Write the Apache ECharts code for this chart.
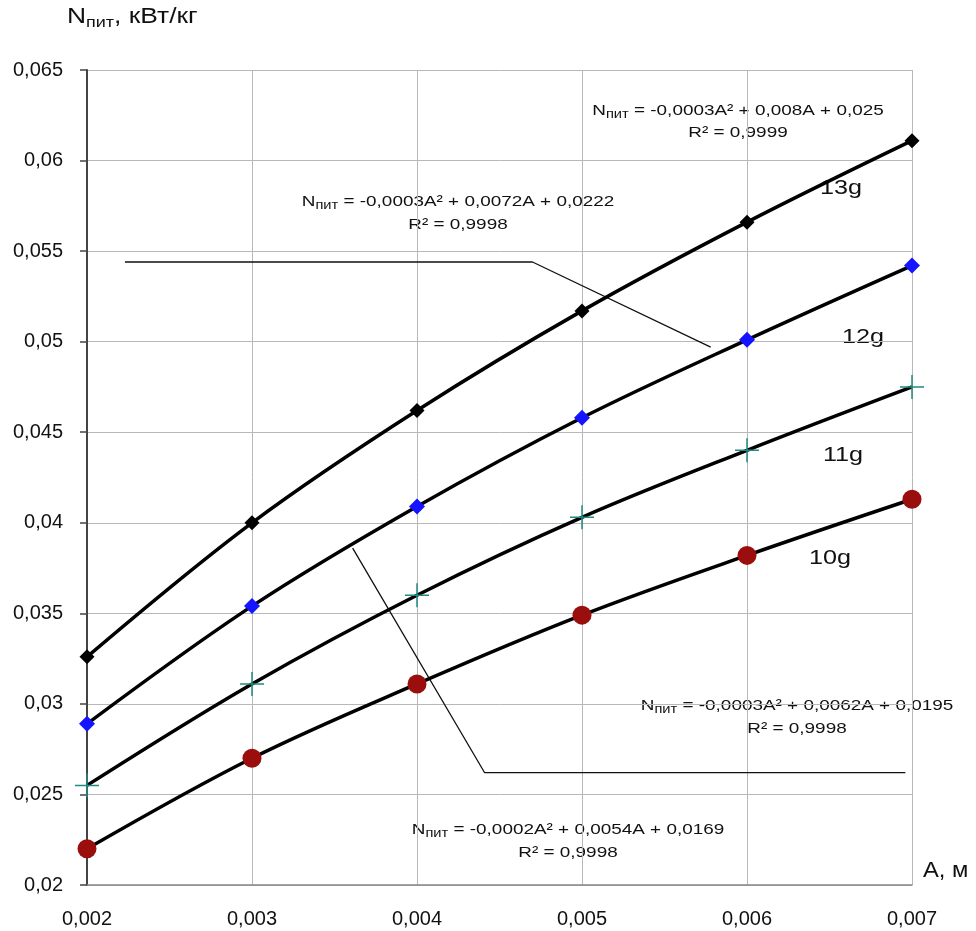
<!DOCTYPE html>
<html>
<head>
<meta charset="utf-8">
<script src="https://cdn.jsdelivr.net/npm/echarts@6/dist/echarts.min.js"></script>
<style>
  html, body { margin: 0; background: #fff; }
  #chart { width: 976px; height: 931px; }
</style>
</head>
<body>
<div id="chart"></div>
<script>
// амплитуда, м
const amplitude = [0.002, 0.003, 0.004, 0.005, 0.006, 0.007];
// N пит, кВт/кг
const n13g = [0.0326, 0.0400, 0.0462, 0.0517, 0.0566, 0.0611];
const n12g = [0.0289, 0.0354, 0.0409, 0.0458, 0.0501, 0.0542];
const n11g = [0.0255, 0.0311, 0.0360, 0.0403, 0.0440, 0.0475];
const n10g = [0.0220, 0.0270, 0.0311, 0.0349, 0.0382, 0.0413];

// выноски к подписям уравнений
const leaderUpper = [[0.00223, 0.0544], [0.0047, 0.0544], [0.00578, 0.0497]];
const leaderLower = [[0.00361, 0.0386], [0.00441, 0.0262], [0.00696, 0.0262]];

const seriesNames = ['13g', '12g', '11g', '10g'];
const equations = [
  ['-0,0003A² + 0,008A + 0,025', 'R² = 0,9999'],
  ['-0,0003A² + 0,0072A + 0,0222', 'R² = 0,9998'],
  ['-0,0003A² + 0,0062A + 0,0195', 'R² = 0,9998'],
  ['-0,0002A² + 0,0054A + 0,0169', 'R² = 0,9998']
];

const FONT = 'Liberation Sans, Arial, sans-serif';
const pairs = (ys) => amplitude.map((x, i) => [x, ys[i]]);
const comma = (v) => String(parseFloat(v.toFixed(4))).replace('.', ',');

function curve(name, ys, symbol, size, color) {
  return {
    name: name,
    type: 'line',
    data: pairs(ys),
    smooth: 0.35,
    clip: false,
    symbol: symbol,
    symbolSize: size,
    showAllSymbol: true,
    itemStyle: { color: color },
    lineStyle: { color: '#000', width: 3.5 },
    z: 3
  };
}

function leader(data) {
  return {
    type: 'line',
    data: data,
    symbol: 'none',
    clip: false,
    lineStyle: { color: '#111', width: 1.3 },
    silent: true,
    z: 2
  };
}

// текст с нижним индексом "пит"
function subText(x, y, rest, size, subSize, scale, align) {
  return {
    type: 'text',
    x: x, y: y,
    scaleX: scale,
    silent: true,
    style: {
      text: '{n|N}{s|пит}{n|' + rest + '}',
      align: align || 'center',
      verticalAlign: 'middle',
      fill: '#111',
      rich: {
        n: { fontSize: size, fontFamily: FONT, fill: '#111' },
        s: { fontSize: subSize, fontFamily: FONT, fill: '#111', padding: [Math.round(size * 0.5), 0, 0, 0] }
      }
    }
  };
}

function plainText(x, y, text, size, scale, align) {
  return {
    type: 'text',
    x: x, y: y,
    scaleX: scale,
    silent: true,
    style: {
      text: text,
      align: align || 'center',
      verticalAlign: 'middle',
      fontSize: size,
      fontFamily: FONT,
      fill: '#111'
    }
  };
}

const eqPos = [[738, 111, 133], [458, 202, 225], [797, 706, 729], [568, 830, 853]];
const namePos = [[841, 188], [863, 337], [843, 455], [830, 558]];

const graphics = [
  subText(67, 17, ', кВт/кг', 22, 15, 1.2, 'left'),
  plainText(923, 871, 'A, м', 22, 1.08, 'left')
];
equations.forEach((eq, i) => {
  const p = eqPos[i];
  graphics.push(subText(p[0], p[1], ' = ' + eq[0], 15.5, 12, 1.22));
  graphics.push(plainText(p[0], p[2], eq[1], 15.5, 1.22));
});
seriesNames.forEach((nm, i) => {
  graphics.push(plainText(namePos[i][0], namePos[i][1], nm, 21, 1.2));
});

const option = {
  animation: false,
  backgroundColor: '#fff',
  grid: { left: 87, right: 64, top: 70, bottom: 46 },
  xAxis: {
    type: 'value',
    min: 0.002,
    max: 0.007,
    interval: 0.001,
    axisLine: { lineStyle: { color: '#888', width: 1.5 } },
    axisTick: { show: false },
    splitLine: { lineStyle: { color: '#b8b8b8', width: 1 } },
    axisLabel: { color: '#111', fontSize: 20, fontFamily: FONT, margin: 24, formatter: comma }
  },
  yAxis: {
    type: 'value',
    min: 0.02,
    max: 0.065,
    interval: 0.005,
    axisLine: { show: true, lineStyle: { color: '#444', width: 2 } },
    axisTick: { show: true, length: 7, lineStyle: { color: '#444', width: 1.5 } },
    splitLine: { lineStyle: { color: '#b8b8b8', width: 1 } },
    axisLabel: { color: '#111', fontSize: 20, fontFamily: FONT, margin: 24, formatter: comma }
  },
  series: [
    leader(leaderUpper),
    leader(leaderLower),
    curve('13g', n13g, 'diamond', 15, '#000'),
    curve('12g', n12g, 'diamond', 16, '#1414ff'),
    curve('11g', n11g, 'path://M0,11.25h24v1.5h-24z M11.25,0h1.5v24h-1.5z', 24, '#1f8a80'),
    curve('10g', n10g, 'circle', 19, '#9a0e0e')
  ],
  graphic: graphics
};

const myChart = echarts.init(document.getElementById('chart'));
myChart.setOption(option);
window.onresize = function () {
  myChart.resize();
};
</script>
</body>
</html>
